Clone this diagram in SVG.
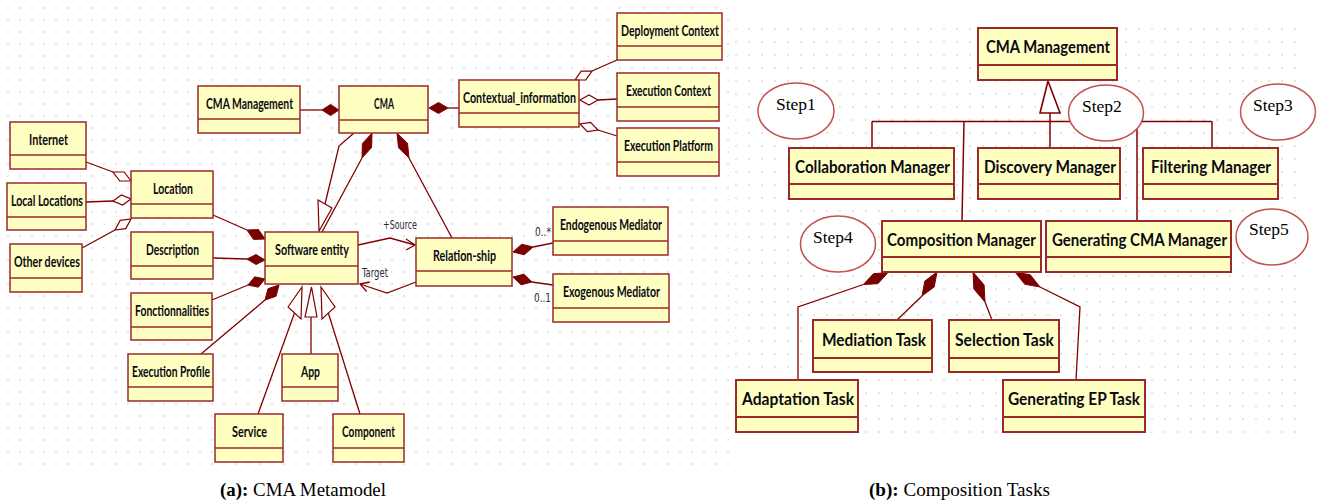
<svg xmlns="http://www.w3.org/2000/svg" width="1318" height="502" viewBox="0 0 1318 502">
<defs>
<pattern id="gl" x="7" y="7" width="12" height="12" patternUnits="userSpaceOnUse"><circle cx="1" cy="1" r="0.8" fill="#c4c4c4"/></pattern>
<pattern id="gr" x="735" y="28" width="13" height="13" patternUnits="userSpaceOnUse"><circle cx="1" cy="1" r="0.8" fill="#c4c4c4"/></pattern>
<style>
.box{fill:#ffffc2;stroke:#9b2a2a;stroke-width:1.5}
.boxr{fill:#ffffc2;stroke:#9b2a2a;stroke-width:2}
.div{stroke:#9b2a2a;stroke-width:1.5}
.divr{stroke:#9b2a2a;stroke-width:2}
.t{font-family:Lato,"DejaVu Sans Condensed",sans-serif;font-weight:bold;font-size:15px;fill:#0a0a14}
.tr{font-family:Lato,"DejaVu Sans Condensed",sans-serif;font-weight:bold;font-size:16.5px;fill:#0a0a14}
.ln{stroke:#800000;stroke-width:1.3;fill:none}
.lnr{stroke:#800000;stroke-width:1.5;fill:none}
.fd{fill:#7a0000;stroke:#7a0000;stroke-width:1}
.hd{fill:#fff;stroke:#800000;stroke-width:1.2}
.lab{font-family:"DejaVu Sans Condensed","DejaVu Sans",sans-serif;font-size:13px;fill:#2a2a3a}
.st{fill:#fff;stroke:#c0504d;stroke-width:1.5}
.stt{font-family:"Liberation Serif",serif;font-size:17.5px;fill:#000}
.cap{font-family:"Liberation Serif",serif;font-size:18px;fill:#000}
</style>
</defs>
<rect width="1318" height="502" fill="#fff"/>
<rect x="5" y="5" width="724" height="460" fill="url(#gl)"/>
<rect x="733" y="26" width="565" height="418" fill="url(#gr)"/>

<g id="connectors">
<line class="ln" x1="300" y1="110" x2="322" y2="110"/>
<polygon class="fd" points="339,110 330.5,104.5 322,110 330.5,115.5"/>
<line class="ln" x1="448" y1="108" x2="459" y2="108"/>
<polygon class="fd" points="429,108 438.5,102.5 448,108 438.5,113.5"/>
<line class="ln" x1="592" y1="71" x2="617" y2="60"/>
<polygon class="hd" points="575,80 585.8,79.9 592,71 581.2,71.1"/>
<line class="ln" x1="598" y1="100" x2="617" y2="99"/>
<polygon class="hd" points="580,100 589,95 598,100 589,105"/>
<line class="ln" x1="598" y1="130" x2="617" y2="136"/>
<polygon class="hd" points="580,124 587.4,131.7 598,130 590.6,122.3"/>
<line class="ln" x1="113" y1="172" x2="86" y2="162"/>
<polygon class="hd" points="131,181 124.2,172 113,172 119.8,181"/>
<line class="ln" x1="113" y1="201" x2="86" y2="202"/>
<polygon class="hd" points="131,199 122.6,205 113,201 121.4,195"/>
<line class="ln" x1="115" y1="230" x2="82" y2="248"/>
<polygon class="hd" points="131,219 125.8,228.6 115,230 120.2,220.4"/>
<line class="ln" x1="247" y1="230" x2="213" y2="215"/>
<polygon class="fd" points="265,239 258.5,229.6 247,230 253.5,239.4"/>
<line class="ln" x1="247" y1="259" x2="213" y2="258"/>
<polygon class="fd" points="265,260 256,254.5 247,259 256,264.5"/>
<line class="ln" x1="248" y1="285" x2="212" y2="300"/>
<polygon class="fd" points="265,279 258.3,287.2 248,285 254.7,276.8"/>
<line class="ln" x1="265" y1="300" x2="201" y2="354"/>
<polygon class="fd" points="279,285 276,296.3 265,300 268,288.7"/>
<polyline class="ln" points="354,133 339,146 325,204"/>
<polygon class="hd" points="318,200 332,208 319,231"/>
<line class="ln" x1="362" y1="158" x2="322" y2="232"/>
<polygon class="fd" points="372,133 371.6,147.4 362,158 362.4,143.6"/>
<line class="ln" x1="409" y1="158" x2="452" y2="238"/>
<polygon class="fd" points="397,133 398.5,147.7 409,158 407.5,143.3"/>
<line class="ln" x1="294.5" y1="313" x2="258" y2="414"/>
<polygon class="hd" points="288,307 302,287 301,319"/>
<line class="ln" x1="311" y1="317" x2="311" y2="354"/>
<polygon class="hd" points="305,317 311.5,287 317,317"/>
<line class="ln" x1="328.3" y1="313" x2="360" y2="414"/>
<polygon class="hd" points="321,287 335,307 322,319"/>
<polyline class="ln" points="358,245 390,238 415,245"/>
<polyline class="ln" points="406,239 415,245 406,250"/>
<polyline class="ln" points="416,282 387,293 360,284"/>
<polyline class="ln" points="369.8,282 360,284 366.6,291.5"/>
<line class="ln" x1="533" y1="247" x2="553" y2="243"/>
<polygon class="fd" points="513,252 524.3,254.8 533,247 521.7,244.2"/>
<line class="ln" x1="532" y1="282" x2="553" y2="285"/>
<polygon class="fd" points="513,277 521.1,284.8 532,282 523.9,274.2"/>
<text class="lab" x="383" y="229" textLength="34" lengthAdjust="spacingAndGlyphs">+Source</text>
<text class="lab" x="362" y="277" textLength="26" lengthAdjust="spacingAndGlyphs">Target</text>
<text class="lab" x="535" y="236" textLength="16" lengthAdjust="spacingAndGlyphs">0..*</text>
<text class="lab" x="534" y="302" textLength="17" lengthAdjust="spacingAndGlyphs">0..1</text>
<line class="lnr" x1="872" y1="121.5" x2="1212" y2="121.5"/>
<line class="lnr" x1="872" y1="121.5" x2="872" y2="148"/>
<line class="lnr" x1="964" y1="121.5" x2="962" y2="221"/>
<line class="lnr" x1="1137" y1="121.5" x2="1137" y2="221"/>
<line class="lnr" x1="1212" y1="121.5" x2="1212" y2="148"/>
<line class="lnr" x1="1050" y1="113" x2="1050" y2="148"/>
<polygon class="hd" style="stroke-width:1.6" points="1048,81 1060,113 1040,113"/>
<polyline class="ln" points="863.3,284.5 798,307 798,380"/>
<polygon class="fd" points="888,272.5 877.9,283.7 863.3,284.5 873.5,273.7"/>
<line class="ln" x1="922" y1="296" x2="897" y2="320"/>
<polygon class="fd" points="937,272 934.2,286.9 922,296 924.8,281.1"/>
<line class="ln" x1="985" y1="302" x2="992" y2="320"/>
<polygon class="fd" points="973,272 973.9,289 985,302 984.1,285"/>
<polyline class="ln" points="1040,287 1080,307 1076,380"/>
<polygon class="fd" points="1015,272 1024.7,284.2 1040,287 1030.3,274.8"/>
</g>

<g id="n_cma_mgmt"><rect class="box" x="198" y="86" width="102" height="47"/><line class="div" x1="198" y1="119" x2="300" y2="119"/><text class="t" x="206" y="108.5" textLength="87" lengthAdjust="spacingAndGlyphs">CMA Management</text></g>
<g id="n_cma"><rect class="box" x="339" y="86" width="89" height="47"/><line class="div" x1="339" y1="120" x2="428" y2="120"/><text class="t" x="374" y="109" textLength="20" lengthAdjust="spacingAndGlyphs">CMA</text></g>
<g id="n_context"><rect class="box" x="459" y="80" width="120" height="47"/><line class="div" x1="459" y1="113" x2="579" y2="113"/><text class="t" x="463" y="102.5" textLength="113" lengthAdjust="spacingAndGlyphs">Contextual_information</text></g>
<g id="n_deploy"><rect class="box" x="617" y="13" width="105" height="47"/><line class="div" x1="617" y1="46" x2="722" y2="46"/><text class="t" x="621" y="35.5" textLength="98" lengthAdjust="spacingAndGlyphs">Deployment Context</text></g>
<g id="n_exec_ctx"><rect class="box" x="617" y="73" width="102" height="48"/><line class="div" x1="617" y1="107" x2="719" y2="107"/><text class="t" x="626" y="96" textLength="85" lengthAdjust="spacingAndGlyphs">Execution Context</text></g>
<g id="n_exec_plat"><rect class="box" x="617" y="128" width="102" height="48"/><line class="div" x1="617" y1="162" x2="719" y2="162"/><text class="t" x="624" y="151" textLength="89" lengthAdjust="spacingAndGlyphs">Execution Platform</text></g>
<g id="n_internet"><rect class="box" x="10" y="122" width="76" height="47"/><line class="div" x1="10" y1="155" x2="86" y2="155"/><text class="t" x="29" y="144.5" textLength="39" lengthAdjust="spacingAndGlyphs">Internet</text></g>
<g id="n_local"><rect class="box" x="7" y="183" width="79" height="47"/><line class="div" x1="7" y1="217" x2="86" y2="217"/><text class="t" x="11" y="206" textLength="72" lengthAdjust="spacingAndGlyphs">Local Locations</text></g>
<g id="n_location"><rect class="box" x="131" y="171" width="82" height="47"/><line class="div" x1="131" y1="204" x2="213" y2="204"/><text class="t" x="153" y="193.5" textLength="40" lengthAdjust="spacingAndGlyphs">Location</text></g>
<g id="n_other"><rect class="box" x="10" y="244" width="72" height="48"/><line class="div" x1="10" y1="278" x2="82" y2="278"/><text class="t" x="14" y="267" textLength="66" lengthAdjust="spacingAndGlyphs">Other devices</text></g>
<g id="n_desc"><rect class="box" x="131" y="232" width="82" height="47"/><line class="div" x1="131" y1="266" x2="213" y2="266"/><text class="t" x="146" y="255" textLength="53" lengthAdjust="spacingAndGlyphs">Description</text></g>
<g id="n_se"><rect class="box" x="265" y="232" width="93" height="52"/><line class="div" x1="265" y1="266" x2="358" y2="266"/><text class="t" x="275" y="255" textLength="74" lengthAdjust="spacingAndGlyphs">Software entity</text></g>
<g id="n_fonc"><rect class="box" x="131" y="293" width="81" height="47"/><line class="div" x1="131" y1="327" x2="212" y2="327"/><text class="t" x="135" y="316" textLength="74" lengthAdjust="spacingAndGlyphs">Fonctionnalities</text></g>
<g id="n_execprof"><rect class="box" x="128" y="354" width="85" height="47"/><line class="div" x1="128" y1="387" x2="213" y2="387"/><text class="t" x="132" y="376.5" textLength="78" lengthAdjust="spacingAndGlyphs">Execution Profile</text></g>
<g id="n_app"><rect class="box" x="282" y="354" width="56" height="47"/><line class="div" x1="282" y1="387" x2="338" y2="387"/><text class="t" x="301" y="376.5" textLength="19" lengthAdjust="spacingAndGlyphs">App</text></g>
<g id="n_service"><rect class="box" x="215" y="414" width="68" height="48"/><line class="div" x1="215" y1="448" x2="283" y2="448"/><text class="t" x="232" y="437" textLength="35" lengthAdjust="spacingAndGlyphs">Service</text></g>
<g id="n_component"><rect class="box" x="333" y="414" width="71" height="48"/><line class="div" x1="333" y1="448" x2="404" y2="448"/><text class="t" x="342" y="437" textLength="53" lengthAdjust="spacingAndGlyphs">Component</text></g>
<g id="n_rel"><rect class="box" x="416" y="238" width="96" height="48"/><line class="div" x1="416" y1="271" x2="512" y2="271"/><text class="t" x="433" y="260.5" textLength="63" lengthAdjust="spacingAndGlyphs">Relation-ship</text></g>
<g id="n_endo"><rect class="box" x="553" y="207" width="115" height="48"/><line class="div" x1="553" y1="241" x2="668" y2="241"/><text class="t" x="560" y="230" textLength="102" lengthAdjust="spacingAndGlyphs">Endogenous Mediator</text></g>
<g id="n_exo"><rect class="box" x="553" y="274" width="116" height="48"/><line class="div" x1="553" y1="308" x2="669" y2="308"/><text class="t" x="563" y="297" textLength="97" lengthAdjust="spacingAndGlyphs">Exogenous Mediator</text></g>

<g id="r_cma_mgmt"><rect class="boxr" x="978" y="28" width="139" height="52"/><line class="divr" x1="978" y1="65" x2="1117" y2="65"/><text class="tr" x="986" y="53" textLength="124" lengthAdjust="spacingAndGlyphs">CMA Management</text></g>
<g id="r_collab"><rect class="boxr" x="789" y="148" width="165" height="51"/><line class="divr" x1="789" y1="184" x2="954" y2="184"/><text class="tr" x="795" y="172.5" textLength="155" lengthAdjust="spacingAndGlyphs">Collaboration Manager</text></g>
<g id="r_disc"><rect class="boxr" x="978" y="148" width="142" height="51"/><line class="divr" x1="978" y1="184" x2="1120" y2="184"/><text class="tr" x="984" y="172.5" textLength="132" lengthAdjust="spacingAndGlyphs">Discovery Manager</text></g>
<g id="r_filter"><rect class="boxr" x="1143" y="148" width="135" height="51"/><line class="divr" x1="1143" y1="184" x2="1278" y2="184"/><text class="tr" x="1151" y="172.5" textLength="120" lengthAdjust="spacingAndGlyphs">Filtering Manager</text></g>
<g id="r_comp"><rect class="boxr" x="882" y="221" width="159" height="51"/><line class="divr" x1="882" y1="257" x2="1041" y2="257"/><text class="tr" x="887" y="245.5" textLength="149" lengthAdjust="spacingAndGlyphs">Composition Manager</text></g>
<g id="r_gencma"><rect class="boxr" x="1046" y="221" width="185" height="51"/><line class="divr" x1="1046" y1="257" x2="1231" y2="257"/><text class="tr" x="1052" y="245.5" textLength="175" lengthAdjust="spacingAndGlyphs">Generating CMA Manager</text></g>
<g id="r_med"><rect class="boxr" x="813" y="320" width="119" height="52"/><line class="divr" x1="813" y1="358" x2="932" y2="358"/><text class="tr" x="822" y="345.5" textLength="104" lengthAdjust="spacingAndGlyphs">Mediation Task</text></g>
<g id="r_sel"><rect class="boxr" x="949" y="320" width="110" height="52"/><line class="divr" x1="949" y1="358" x2="1059" y2="358"/><text class="tr" x="955" y="345.5" textLength="99" lengthAdjust="spacingAndGlyphs">Selection Task</text></g>
<g id="r_adapt"><rect class="boxr" x="736" y="380" width="122" height="52"/><line class="divr" x1="736" y1="417" x2="858" y2="417"/><text class="tr" x="742" y="405" textLength="112" lengthAdjust="spacingAndGlyphs">Adaptation Task</text></g>
<g id="r_genep"><rect class="boxr" x="1003" y="380" width="142" height="52"/><line class="divr" x1="1003" y1="417" x2="1145" y2="417"/><text class="tr" x="1008" y="405" textLength="132" lengthAdjust="spacingAndGlyphs">Generating EP Task</text></g>

<g id="step1"><ellipse class="st" cx="796" cy="111" rx="38" ry="28"/><text class="stt" x="776" y="110">Step1</text></g>
<g id="step2"><ellipse class="st" cx="1106" cy="113" rx="37.5" ry="28"/><text class="stt" x="1082" y="112">Step2</text></g>
<g id="step3"><ellipse class="st" cx="1278" cy="112" rx="37.5" ry="28"/><text class="stt" x="1253" y="111">Step3</text></g>
<g id="step4"><ellipse class="st" cx="838" cy="244" rx="37.5" ry="28"/><text class="stt" x="813" y="243">Step4</text></g>
<g id="step5"><ellipse class="st" cx="1272" cy="237" rx="36" ry="28"/><text class="stt" x="1249" y="235">Step5</text></g>

<g id="captions">
<text class="cap" x="220" y="496" textLength="166" lengthAdjust="spacingAndGlyphs"><tspan font-weight="bold">(a):</tspan> CMA Metamodel</text>
<text class="cap" x="869" y="496" textLength="181" lengthAdjust="spacingAndGlyphs"><tspan font-weight="bold">(b):</tspan> Composition Tasks</text>
</g>
</svg>
